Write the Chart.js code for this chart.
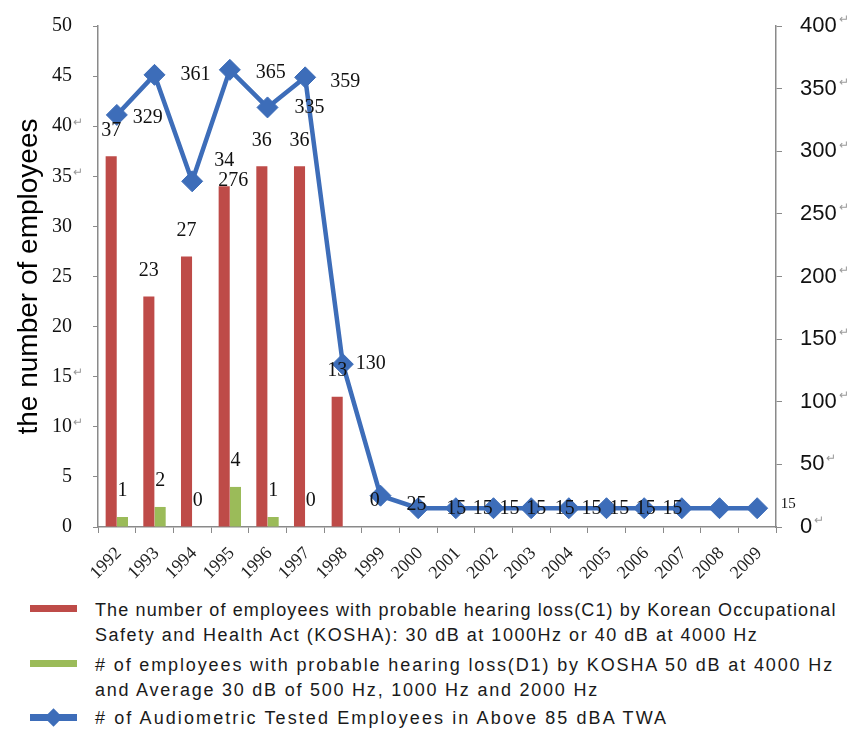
<!DOCTYPE html>
<html>
<head>
<meta charset="utf-8">
<script src="https://cdn.jsdelivr.net/npm/chart.js@4.4.1/dist/chart.umd.min.js"></script>
<style>
  html, body { margin: 0; padding: 0; background: #fff; }
  #wrap { position: relative; width: 865px; height: 732px; overflow: hidden; }
  #chart { position: absolute; left: 0; top: 0; }
  .legend { font-family: "Liberation Sans", Arial, sans-serif; font-size: 18px; color: #1a1a1a; }
  .ln { position: absolute; left: 95px; height: 25px; line-height: 25px; white-space: nowrap; }
  .sw { position: absolute; left: 30px; width: 47px; height: 7px; }
  .dia { position: absolute; width: 13px; height: 13px; background: #3D6DB9; transform: rotate(45deg); }
</style>
</head>
<body>
<div id="wrap">
  <canvas id="chart" width="865" height="590"></canvas>
  <div class="legend">
    <div class="sw" style="top:605px;background:#BE4B48"></div>
    <div class="ln" style="top:598px;letter-spacing:1.12px">The number of employees with probable hearing loss(C1) by Korean Occupational</div>
    <div class="ln" style="top:623px;letter-spacing:1.53px">Safety and Health Act (KOSHA): 30 dB at 1000Hz or 40 dB at 4000 Hz</div>
    <div class="sw" style="top:660px;background:#9BBB59"></div>
    <div class="ln" style="top:653px;letter-spacing:1.87px"># of employees with probable hearing loss(D1) by KOSHA 50 dB at 4000 Hz</div>
    <div class="ln" style="top:678px;letter-spacing:1.77px">and Average 30 dB of 500 Hz, 1000 Hz and 2000 Hz</div>
    <div class="sw" style="top:714px;height:7px;background:#3D6DB9"></div>
    <div class="dia" style="left:47px;top:711px"></div>
    <div class="ln" style="top:706px;letter-spacing:2.1px"># of Audiometric Tested Employees in Above 85 dBA TWA</div>
  </div>
</div>
<script>
// Survey years on the category axis
const years = ['1992','1993','1994','1995','1996','1997','1998','1999','2000',
               '2001','2002','2003','2004','2005','2006','2007','2008','2009'];

// Employees with probable hearing loss, C1 criterion (left axis)
const c1Counts = [37, 23, 27, 34, 36, 36, 13, 0, null, null, null, null, null, null, null, null, null, null];

// Employees with probable hearing loss, D1 criterion (left axis)
const d1Counts = [1, 2, 0, 4, 1, 0, null, null, null, null, null, null, null, null, null, null, null, null];

// Audiometric tested employees above 85 dBA TWA (right axis)
const testedCounts = [329, 361, 276, 365, 335, 359, 130, 25, 15, 15, 15, 15, 15, 15, 15, 15, 15, 15];

// Axis ranges and tick steps
const leftRange = { min: 0, max: 50, step: 5 };
const rightRange = { min: 0, max: 400, step: 50 };

// Tick values followed by a paragraph mark
const leftMarked = [40, 35, 15, 10];

const SERIF = '"Liberation Serif", "Times New Roman", serif';
const SANS = '"Liberation Sans", Arial, sans-serif';
const AXIS_GRAY = '#8a8a8a';

// Label placement relative to each line point (dx, dy, font size)
const lineLabelLayout = [
  [31, 3, 20], [41, 0, 20], [41, -1, 20], [41, 3, 20], [42, 0, 20], [40, 4, 20],
  [28, 0, 20], [36, 9, 20], [38, 1, 20], [27, 1, 20], [16, 1, 20], [5, 1, 20],
  [-4, 1, 20], [-15, 1, 20], [-25, 1, 20], [-36, 1, 20], [-47, 1, 20], [31, -4, 15]
];

const valueLabels = {
  id: 'valueLabels',
  afterDatasetsDraw(chart) {
    const ctx = chart.ctx;
    ctx.save();
    ctx.fillStyle = '#111';
    ctx.textAlign = 'center';
    ctx.textBaseline = 'middle';
    chart.data.datasets.forEach((ds, di) => {
      const meta = chart.getDatasetMeta(di);
      meta.data.forEach((el, i) => {
        const v = ds.data[i];
        if (v === null || v === undefined) return;
        if (ds.type === 'line') {
          const [dx, dy, fs] = lineLabelLayout[i];
          ctx.font = fs + 'px ' + SERIF;
          ctx.fillText(String(v), el.x + dx, el.y + dy);
        } else {
          ctx.font = '20px ' + SERIF;
          ctx.fillText(String(v), el.x, el.y - 26);
        }
      });
    });
    ctx.restore();
  }
};

// Small grey return marks after some tick labels
const returnMarks = {
  id: 'returnMarks',
  afterDraw(chart) {
    const ctx = chart.ctx;
    ctx.save();
    ctx.fillStyle = '#9a9a9a';
    ctx.font = '12px ' + SANS;
    ctx.textBaseline = 'middle';
    ctx.textAlign = 'left';
    const yl = chart.scales.y;
    leftMarked.forEach(v => {
      const y = yl.getPixelForValue(v);
      ctx.fillText('\u21B5', yl.right - 25, y - 4);
    });
    const yr = chart.scales.y1;
    yr.ticks.forEach(t => {
      const y = yr.getPixelForValue(t.value);
      ctx.font = '22px ' + SANS;
      const w = ctx.measureText(String(t.value)).width;
      ctx.font = '12px ' + SANS;
      ctx.fillText('\u21B5', yr.left + 24 + w + 2, y - 6);
    });
    ctx.restore();
  }
};

// Fixed axis box sizes; label overhang does not push the plot area
function fixVertical(width) {
  return s => { s.width = width; s.paddingTop = 0; s.paddingBottom = 0; };
}

new Chart(document.getElementById('chart'), {
  data: {
    labels: years,
    datasets: [
      {
        type: 'line',
        label: '# of Audiometric Tested Employees in Above 85 dBA TWA',
        data: testedCounts,
        yAxisID: 'y1',
        borderColor: '#3D6DB9',
        backgroundColor: '#3D6DB9',
        borderWidth: 4.5,
        pointStyle: 'rectRot',
        pointRadius: 10.5,
        pointBorderWidth: 1,
        pointBackgroundColor: '#3D6DB9',
        pointBorderColor: '#3D6DB9',
        tension: 0,
        order: 0
      },
      {
        type: 'bar',
        label: 'C1',
        data: c1Counts,
        yAxisID: 'y',
        backgroundColor: '#BE4B48',
        categoryPercentage: 0.6,
        barPercentage: 0.98,
        order: 1
      },
      {
        type: 'bar',
        label: 'D1',
        data: d1Counts,
        yAxisID: 'y',
        backgroundColor: '#9BBB59',
        categoryPercentage: 0.6,
        barPercentage: 0.98,
        order: 2
      }
    ]
  },
  options: {
    responsive: false,
    animation: false,
    layout: { padding: { top: 26, left: 0, right: 0, bottom: 0 } },
    plugins: { legend: { display: false }, tooltip: { enabled: false } },
    scales: {
      x: {
        type: 'category',
        offset: true,
        grid: { display: true, drawOnChartArea: false, offset: true, tickLength: 6, color: AXIS_GRAY },
        border: { color: AXIS_GRAY, width: 1.5 },
        ticks: {
          autoSkip: false, minRotation: 45, maxRotation: 45,
          font: { family: SERIF, size: 18 }, color: '#222', padding: 10, labelOffset: 2
        },
        afterFit(s) { s.height = 63; }
      },
      y: {
        position: 'left',
        min: leftRange.min, max: leftRange.max,
        ticks: { stepSize: leftRange.step, font: { family: SERIF, size: 20 }, color: '#111', padding: 21 },
        grid: { drawOnChartArea: false, tickLength: 5, color: AXIS_GRAY },
        border: { color: AXIS_GRAY, width: 1.5 },
        title: { display: true, text: 'the number of employees', font: { family: SANS, size: 28 }, color: '#000', padding: { top: 12, bottom: 0 } },
        afterFit: fixVertical(98)
      },
      y1: {
        position: 'right',
        min: rightRange.min, max: rightRange.max,
        ticks: { stepSize: rightRange.step, font: { family: SANS, size: 22 }, color: '#111', padding: 18 },
        grid: { drawOnChartArea: false, tickLength: 6, color: AXIS_GRAY },
        border: { color: AXIS_GRAY, width: 1.5 },
        afterFit: fixVertical(89)
      }
    }
  },
  plugins: [valueLabels, returnMarks]
});
</script>
</body>
</html>
